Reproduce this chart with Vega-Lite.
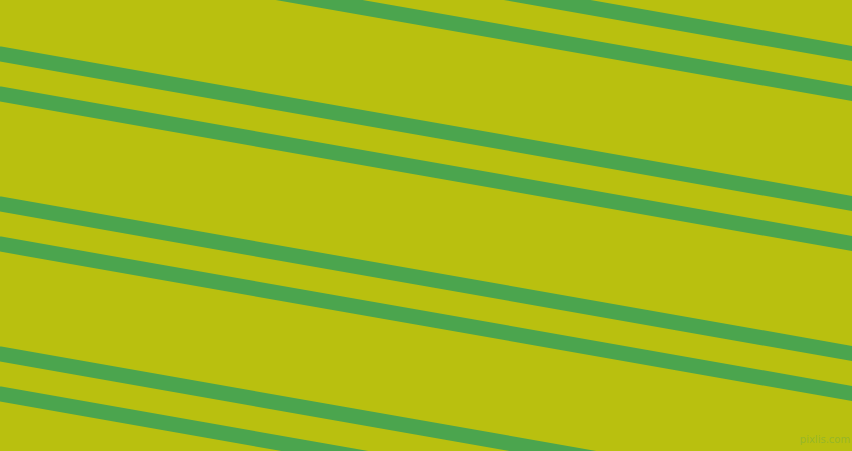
{
  "$schema": "https://vega.github.io/schema/vega-lite/v6.json",
  "description": "Diagonal green stripe pairs on a yellow-green background.",
  "width": 852,
  "height": 451,
  "autosize": {"type": "fit", "contains": "padding"},
  "padding": 0,
  "background": "#b9c00f",
  "config": {"view": {"stroke": null}},
  "datasets": {
    "stripes": [
      {"x0": 0, "y0": -96, "x1": 852, "y1": 53.5},
      {"x0": 0, "y0": -56, "x1": 852, "y1": 93.5},
      {"x0": 0, "y0": 54, "x1": 852, "y1": 203.5},
      {"x0": 0, "y0": 94, "x1": 852, "y1": 243.5},
      {"x0": 0, "y0": 204, "x1": 852, "y1": 353.5},
      {"x0": 0, "y0": 244, "x1": 852, "y1": 393.5},
      {"x0": 0, "y0": 354, "x1": 852, "y1": 503.5},
      {"x0": 0, "y0": 394, "x1": 852, "y1": 543.5}
    ],
    "marks": [
      {"x": 825, "y": 440, "label": "pixlis.com"}
    ]
  },
  "layer": [
    {
      "data": {"name": "stripes"},
      "mark": {"type": "rule", "color": "#4ba54e", "strokeWidth": 15, "strokeCap": "square", "clip": true},
      "encoding": {
        "x": {"field": "x0", "type": "quantitative", "scale": {"domain": [0, 852], "nice": false, "zero": false}, "axis": null},
        "y": {"field": "y0", "type": "quantitative", "scale": {"domain": [0, 451], "nice": false, "zero": false, "reverse": true}, "axis": null},
        "x2": {"field": "x1"},
        "y2": {"field": "y1"}
      }
    },
    {
      "data": {"name": "marks"},
      "mark": {"type": "text", "font": "DejaVu Sans", "fontSize": 10, "color": "#94b62c", "opacity": 0.9},
      "encoding": {
        "x": {"field": "x", "type": "quantitative"},
        "y": {"field": "y", "type": "quantitative"},
        "text": {"field": "label"}
      }
    }
  ]
}
